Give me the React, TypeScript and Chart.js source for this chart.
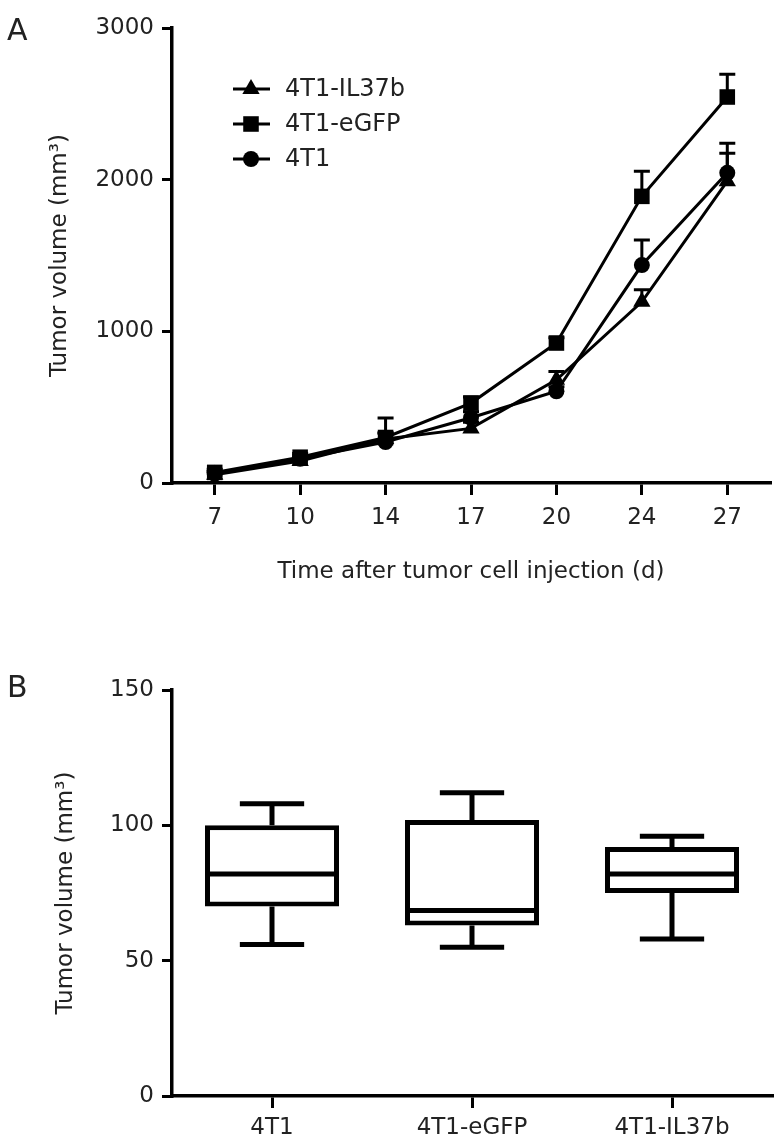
import React, { useEffect, useRef } from 'react';
import { Chart, registerables } from 'chart.js';

Chart.register(...registerables);

// ---------- Panel A data ----------
const days = ['7', '10', '14', '17', '20', '24', '27'];
const il37bMean = [55, 145, 290, 360, 680, 1195, 1990];
const il37bSem = [20, 25, 40, 40, 55, 80, 185];
const egfpMean = [70, 170, 300, 527, 923, 1890, 2545];
const egfpSem = [20, 25, 30, 40, 35, 165, 150];
const t4Mean = [60, 160, 270, 430, 605, 1437, 2045];
const t4Sem = [15, 20, 158, 40, 30, 165, 195];
const seriesLabels = ['4T1-IL37b', '4T1-eGFP', '4T1'];
const seriesMarkers = ['triangle', 'rect', 'circle'];
const yMaxA = 3000;
const yStepA = 1000;

// ---------- Panel B data ----------
const groups = ['4T1', '4T1-eGFP', '4T1-IL37b'];
const boxMin = [56, 55, 58];
const boxQ1 = [70, 63, 75];
const boxMedian = [82, 68.5, 82];
const boxQ3 = [100, 102, 92];
const boxMax = [108, 112, 96];
const yMaxB = 150;
const yStepB = 50;

const FAMILY = "'DejaVu Sans', sans-serif";
const TEXT = '#222';
const INK = '#000';

const semSets = [il37bSem, egfpSem, t4Sem];
const meanSets = [il37bMean, egfpMean, t4Mean];
const markerRadius: Record<string, number> = { triangle: 10, rect: 11, circle: 8 };

function drawMarker(ctx: CanvasRenderingContext2D, style: string, x: number, y: number, r: number) {
  ctx.beginPath();
  if (style === 'triangle') {
    let rad = 0;
    ctx.moveTo(x + Math.sin(rad) * r, y - Math.cos(rad) * r);
    rad += (2 * Math.PI) / 3;
    ctx.lineTo(x + Math.sin(rad) * r, y - Math.cos(rad) * r);
    rad += (2 * Math.PI) / 3;
    ctx.lineTo(x + Math.sin(rad) * r, y - Math.cos(rad) * r);
    ctx.closePath();
  } else if (style === 'rect') {
    const s = Math.SQRT1_2 * r;
    ctx.rect(x - s, y - s, 2 * s, 2 * s);
  } else {
    ctx.arc(x, y, r, 0, Math.PI * 2);
  }
  ctx.fill();
}

const errorBarPlugin = {
  id: 'errorBars',
  afterDatasetsDraw(chart: any) {
    const ctx = chart.ctx;
    const ys = chart.scales.y;
    ctx.save();
    ctx.strokeStyle = INK;
    ctx.lineWidth = 3;
    chart.data.datasets.forEach((_: any, di: number) => {
      const meta = chart.getDatasetMeta(di);
      meta.data.forEach((pt: any, i: number) => {
        const top = ys.getPixelForValue(meanSets[di][i] + semSets[di][i]);
        ctx.beginPath();
        ctx.moveTo(pt.x, pt.y);
        ctx.lineTo(pt.x, top);
        ctx.moveTo(pt.x - 8, top);
        ctx.lineTo(pt.x + 8, top);
        ctx.stroke();
      });
    });
    ctx.restore();
  },
};

const legendPlugin = {
  id: 'inlineLegend',
  afterDraw(chart: any) {
    const ctx = chart.ctx;
    const area = chart.chartArea;
    const x0 = area.left + 61;
    ctx.save();
    ctx.fillStyle = INK;
    ctx.strokeStyle = INK;
    ctx.lineWidth = 3;
    ctx.font = `24px ${FAMILY}`;
    ctx.textBaseline = 'middle';
    chart.data.datasets.forEach((ds: any, i: number) => {
      const y = area.top + 61 + i * 35;
      ctx.beginPath();
      ctx.moveTo(x0, y);
      ctx.lineTo(x0 + 37, y);
      ctx.stroke();
      ctx.fillStyle = INK;
      drawMarker(ctx, ds.pointStyle, x0 + 18, y, ds.pointRadius);
      ctx.fillStyle = TEXT;
      ctx.fillText(ds.label, x0 + 52, y + 1);
    });
    ctx.restore();
  },
};

const boxPlugin = {
  id: 'boxWhiskers',
  afterDatasetsDraw(chart: any) {
    const ctx = chart.ctx;
    const ys = chart.scales.y;
    const meta = chart.getDatasetMeta(0);
    ctx.save();
    ctx.strokeStyle = INK;
    ctx.lineWidth = 5;
    meta.data.forEach((bar: any, i: number) => {
      const x = bar.x;
      const half = bar.width / 2;
      const cap = bar.width * 0.24;
      const yMed = ys.getPixelForValue(boxMedian[i]);
      const yQ1 = ys.getPixelForValue(boxQ1[i]);
      const yQ3 = ys.getPixelForValue(boxQ3[i]);
      const yMin = ys.getPixelForValue(boxMin[i]);
      const yMax = ys.getPixelForValue(boxMax[i]);
      ctx.beginPath();
      ctx.moveTo(x - half + 2, yMed);
      ctx.lineTo(x + half - 2, yMed);
      ctx.moveTo(x, yQ3);
      ctx.lineTo(x, yMax);
      ctx.moveTo(x - cap, yMax);
      ctx.lineTo(x + cap, yMax);
      ctx.moveTo(x, yQ1);
      ctx.lineTo(x, yMin);
      ctx.moveTo(x - cap, yMin);
      ctx.lineTo(x + cap, yMin);
      ctx.stroke();
    });
    ctx.restore();
  },
};

function axisCommon() {
  return {
    grid: {
      display: true,
      drawOnChartArea: false,
      drawTicks: true,
      color: INK,
      lineWidth: 3,
      offset: false,
    },
    border: { display: true, color: INK, width: 3.5 },
  };
}

const plainNumber = (v: any) => String(v);

function configA(): any {
  const base = axisCommon();
  return {
    type: 'line',
    data: {
      labels: days,
      datasets: seriesLabels.map((label, i) => ({
        label,
        data: meanSets[i],
        pointStyle: seriesMarkers[i],
        pointRadius: markerRadius[seriesMarkers[i]],
        pointHoverRadius: markerRadius[seriesMarkers[i]],
        borderColor: INK,
        backgroundColor: INK,
        pointBackgroundColor: INK,
        pointBorderColor: INK,
        pointBorderWidth: 0,
        borderWidth: 3,
        tension: 0,
        fill: false,
      })),
    },
    options: {
      responsive: false,
      maintainAspectRatio: false,
      animation: false,
      layout: { padding: { left: 0, top: 28, right: 9, bottom: 0 } },
      plugins: { legend: { display: false }, tooltip: { enabled: false } },
      scales: {
        x: {
          type: 'category',
          offset: true,
          grid: { ...base.grid, tickLength: 12 },
          border: base.border,
          ticks: { color: TEXT, font: { family: FAMILY, size: 23 }, padding: 9, maxRotation: 0 },
          title: {
            display: true,
            text: 'Time after tumor cell injection (d)',
            color: TEXT,
            font: { family: FAMILY, size: 23 },
            padding: { top: 0, bottom: 64 },
          },
          afterFit: (s: any) => { s.height = 167; },
        },
        y: {
          min: 0,
          max: yMaxA,
          grid: { ...base.grid, tickLength: 10 },
          border: base.border,
          ticks: { stepSize: yStepA, color: TEXT, font: { family: FAMILY, size: 23 }, padding: 8, callback: plainNumber },
          title: {
            display: true,
            text: 'Tumor volume (mm³)',
            color: TEXT,
            font: { family: FAMILY, size: 23 },
            padding: { top: 46, bottom: 0 },
          },
          afterFit: (s: any) => { s.width = 172; },
        },
      },
    },
    plugins: [errorBarPlugin, legendPlugin],
  };
}

function configB(): any {
  const base = axisCommon();
  return {
    type: 'bar',
    data: {
      labels: groups,
      datasets: [
        {
          label: 'Tumor volume',
          data: groups.map((_, i) => [boxQ1[i], boxQ3[i]]),
          backgroundColor: '#fff',
          borderColor: INK,
          borderWidth: 5,
          borderSkipped: false,
          barPercentage: 0.67,
          categoryPercentage: 1,
        },
      ],
    },
    options: {
      responsive: false,
      maintainAspectRatio: false,
      animation: false,
      layout: { padding: { left: 0, top: 40, right: 9, bottom: 0 } },
      plugins: { legend: { display: false }, tooltip: { enabled: false } },
      scales: {
        x: {
          type: 'category',
          offset: true,
          grid: { ...base.grid, tickLength: 12 },
          border: base.border,
          ticks: { color: TEXT, font: { family: FAMILY, size: 23 }, padding: 6, maxRotation: 0 },
          afterFit: (s: any) => { s.height = 47; },
        },
        y: {
          min: 0,
          max: yMaxB,
          grid: { ...base.grid, tickLength: 10 },
          border: base.border,
          ticks: { stepSize: yStepB, color: TEXT, font: { family: FAMILY, size: 23 }, padding: 8, callback: plainNumber },
          title: {
            display: true,
            text: 'Tumor volume (mm³)',
            color: TEXT,
            font: { family: FAMILY, size: 23 },
            padding: { top: 52, bottom: 0 },
          },
          afterFit: (s: any) => { s.width = 172; },
        },
      },
    },
    plugins: [boxPlugin],
  };
}

const panelLabel: React.CSSProperties = {
  position: 'absolute',
  left: 7,
  fontFamily: FAMILY,
  fontSize: 30,
  lineHeight: '30px',
  color: TEXT,
};

export default function App() {
  const refA = useRef<HTMLCanvasElement>(null);
  const refB = useRef<HTMLCanvasElement>(null);

  useEffect(() => {
    const a = new Chart(refA.current as HTMLCanvasElement, configA());
    const b = new Chart(refB.current as HTMLCanvasElement, configB());
    return () => {
      a.destroy();
      b.destroy();
    };
  }, []);

  return (
    <div style={{ position: 'absolute', left: 0, top: 0, width: 781, height: 1143, background: '#fff' }}>
      <canvas ref={refA} width={781} height={650} style={{ position: 'absolute', left: 0, top: 0, display: 'block' }} />
      <canvas ref={refB} width={781} height={493} style={{ position: 'absolute', left: 0, top: 650, display: 'block' }} />
      <div style={{ ...panelLabel, top: 15 }}>A</div>
      <div style={{ ...panelLabel, top: 672 }}>B</div>
    </div>
  );
}
